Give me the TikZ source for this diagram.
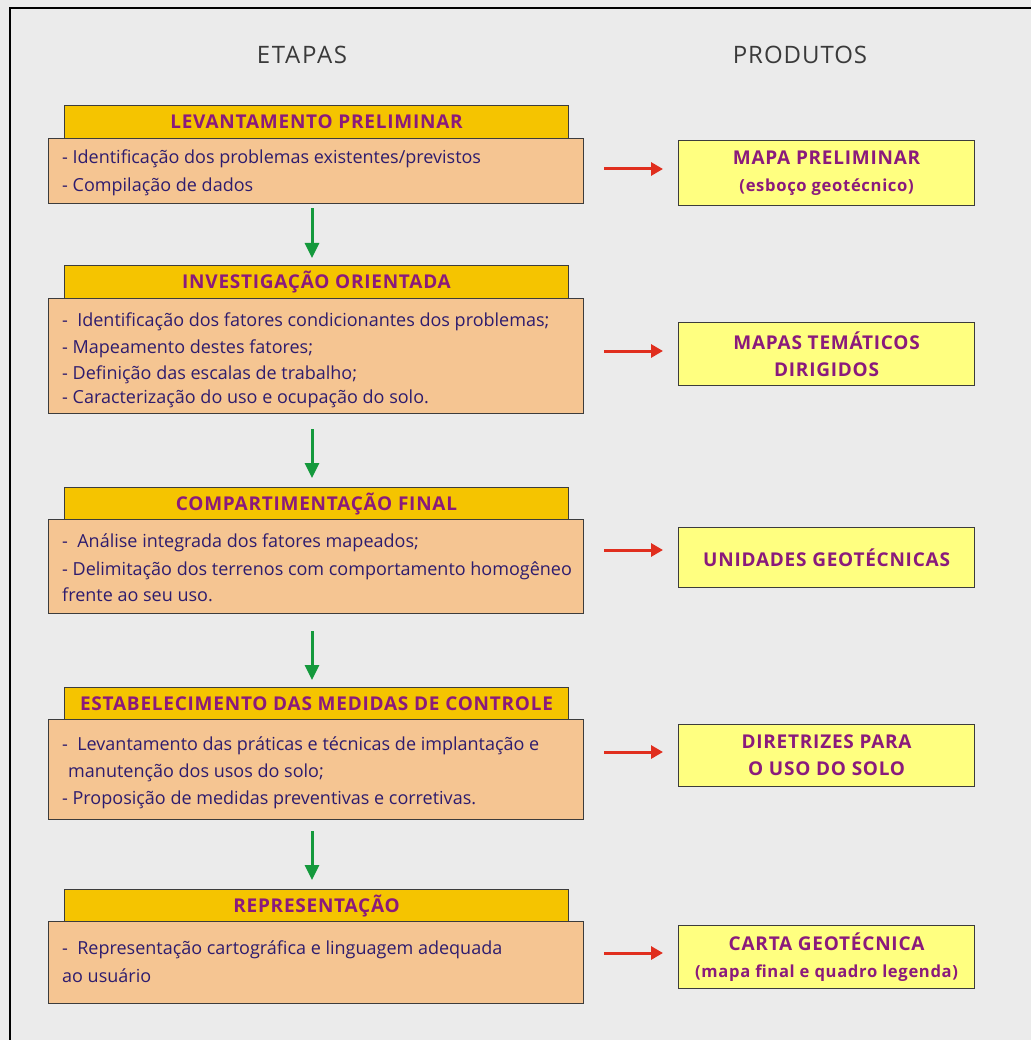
\documentclass[tikz,border=0pt]{standalone}
\usepackage{fontspec}
\setmainfont{Open Sans}
\newfontfamily\capsfont[LetterSpace=4]{Open Sans}
\newfontfamily\titlefont[LetterSpace=7]{Open Sans}
\usetikzlibrary{arrows.meta}
\definecolor{bg}{HTML}{EBEBEB}
\definecolor{hdrfill}{HTML}{F5C400}
\definecolor{bodyfill}{HTML}{F5C592}
\definecolor{prodfill}{HTML}{FFFF80}
\definecolor{hdrtext}{HTML}{8A1A7C}
\definecolor{bodytext}{HTML}{2E1C6E}
\definecolor{redarrow}{HTML}{E02E1E}
\definecolor{greenarrow}{HTML}{14993C}
\definecolor{titletext}{HTML}{3A3A3A}
\definecolor{edge}{HTML}{3C3C3C}
\newcommand{\lowprod}{\fontsize{16.6}{27}\selectfont\bfseries}
\tikzset{
  hdrbox/.style={draw=edge, line width=1pt, fill=hdrfill, minimum width=504pt, minimum height=33pt, anchor=north west, inner sep=0pt,
     font=\capsfont\fontsize{19}{22}\selectfont\bfseries, text=hdrtext},
  bodybox/.style={draw=edge, line width=1.2pt, fill=bodyfill, minimum width=535pt, anchor=north west, inner sep=0pt},
  bodytxt/.style={anchor=base west, inner sep=0pt, text=bodytext, font=\fontsize{18}{22}\selectfont},
  prodbox/.style={draw=edge, line width=1.2pt, fill=prodfill, minimum width=296pt, anchor=north west, inner sep=0pt, align=center,
     text=hdrtext, font=\capsfont\fontsize{19}{27}\selectfont\bfseries},
  redarr/.style={draw=redarrow, line width=3pt, -{Triangle[length=12pt,width=13pt]}},
  greenarr/.style={draw=greenarrow, line width=3pt, -{Triangle[length=15pt,width=14pt]}},
  coltitle/.style={text=titletext, font=\titlefont\fontsize{24}{28}\selectfont},
}
\begin{document}
\begin{tikzpicture}[x=1pt,y=-1pt]
\fill[bg] (0,0) rectangle (1031,1040);
\useasboundingbox (0,0) rectangle (1031,1040);
\draw[black, line width=2.5pt] (10,1040) -- (10,8) -- (1031,8);

\node[coltitle] (etapas) at (302,55) {ETAPAS};
\node[coltitle, font=\capsfont\fontsize{24}{28}\selectfont] (produtos) at (800,55) {PRODUTOS};

% stage 1
\node[hdrbox] (h1) at (64,105) {LEVANTAMENTO PRELIMINAR};
\node[bodybox, minimum height=65pt] (b1) at (48,138) {};
\node[bodytxt] (t1a) at (62,164) {- Identificação dos problemas existentes/previstos};
\node[bodytxt] (t1b) at (62,192) {- Compilação de dados};
\node[prodbox, minimum height=65pt] (p1) at (678,140) {MAPA PRELIMINAR\\{\lowprod(esboço geotécnico)}};

% stage 2
\node[hdrbox] (h2) at (64,265) {INVESTIGAÇÃO ORIENTADA};
\node[bodybox, minimum height=115pt] (b2) at (48,298) {};
\node[bodytxt] (t2a) at (62,326) {-\ \ Identificação dos fatores condicionantes dos problemas;};
\node[bodytxt] (t2b) at (62,353) {- Mapeamento destes fatores;};
\node[bodytxt] (t2c) at (62,379) {- Definição das escalas de trabalho;};
\node[bodytxt] (t2d) at (62,403) {- Caracterização do uso e ocupação do solo.};
\node[prodbox, minimum height=63pt] (p2) at (678,322) {MAPAS TEMÁTICOS\\DIRIGIDOS};

% stage 3
\node[hdrbox] (h3) at (64,487) {COMPARTIMENTAÇÃO FINAL};
\node[bodybox, minimum height=94pt] (b3) at (48,519) {};
\node[bodytxt] (t3a) at (62,547) {-\ \ Análise integrada dos fatores mapeados;};
\node[bodytxt] (t3b) at (62,575) {- Delimitação dos terrenos com comportamento homogêneo};
\node[bodytxt] (t3c) at (62,601) {frente ao seu uso.};
\node[prodbox, minimum height=60pt] (p3) at (678,527) {UNIDADES GEOTÉCNICAS};

% stage 4
\node[hdrbox] (h4) at (64,687) {ESTABELECIMENTO DAS MEDIDAS DE CONTROLE};
\node[bodybox, minimum height=100pt] (b4) at (48,719) {};
\node[bodytxt] (t4a) at (62,750) {-\ \ Levantamento das práticas e técnicas de implantação e};
\node[bodytxt] (t4b) at (68,777) {manutenção dos usos do solo;};
\node[bodytxt] (t4c) at (62,804) {- Proposição de medidas preventivas e corretivas.};
\node[prodbox, minimum height=62pt] (p4) at (678,724) {DIRETRIZES PARA\\O USO DO SOLO};

% stage 5
\node[hdrbox] (h5) at (64,889) {REPRESENTAÇÃO};
\node[bodybox, minimum height=82pt] (b5) at (48,921) {};
\node[bodytxt] (t5a) at (62,954) {-\ \ Representação cartográfica e linguagem adequada};
\node[bodytxt] (t5b) at (62,982) {ao usuário};
\node[prodbox, minimum height=63pt] (p5) at (678,925) {CARTA GEOTÉCNICA\\{\lowprod(mapa final e quadro legenda)}};

% red arrows
\draw[redarr] ([xshift=20pt]b1.east |- 0,169) -- ([xshift=-15pt]p1.west |- 0,169);
\draw[redarr] ([xshift=20pt]b2.east |- 0,351) -- ([xshift=-15pt]p2.west |- 0,351);
\draw[redarr] ([xshift=20pt]b3.east |- 0,550) -- ([xshift=-15pt]p3.west |- 0,550);
\draw[redarr] ([xshift=20pt]b4.east |- 0,752) -- ([xshift=-15pt]p4.west |- 0,752);
\draw[redarr] ([xshift=20pt]b5.east |- 0,953) -- ([xshift=-15pt]p5.west |- 0,953);

% green arrows
\coordinate (gx) at (312,0);
\draw[greenarr] ([yshift=-4pt]b1.south -| gx) -- ([yshift=7pt]h2.north -| gx);
\draw[greenarr] ([yshift=-15pt]b2.south -| gx) -- ([yshift=9pt]h3.north -| gx);
\draw[greenarr] ([yshift=-17pt]b3.south -| gx) -- ([yshift=7pt]h4.north -| gx);
\draw[greenarr] ([yshift=-11pt]b4.south -| gx) -- ([yshift=9pt]h5.north -| gx);
\end{tikzpicture}
\end{document}
